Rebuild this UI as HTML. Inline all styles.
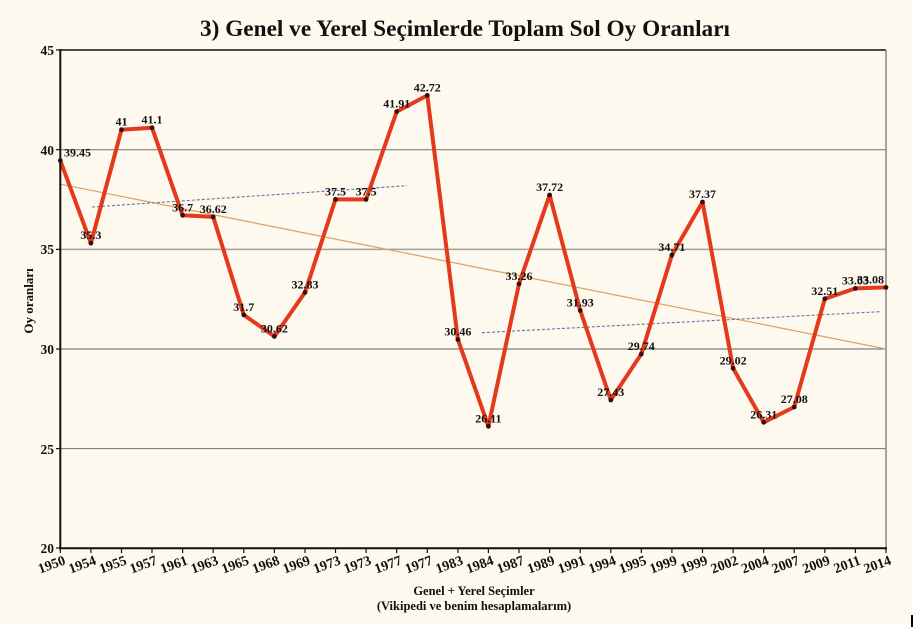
<!DOCTYPE html>
<html><head><meta charset="utf-8"><style>
html,body{margin:0;padding:0;background:#fff;}
svg{display:block;}
</style></head><body>
<svg width="921" height="642" viewBox="0 0 921 642" xmlns="http://www.w3.org/2000/svg">
<rect x="0" y="0" width="921" height="642" fill="#ffffff"/>
<rect x="0" y="0" width="912" height="624" fill="#fdf9ef"/>
<rect x="911" y="615" width="2" height="12" fill="#000"/>

<text x="465" y="36" text-anchor="middle" font-family="Liberation Serif, serif" font-weight="bold" font-size="23" fill="#111" textLength="530" lengthAdjust="spacingAndGlyphs">3) Genel ve Yerel Seçimlerde Toplam Sol Oy Oranları</text>

<!-- gridlines -->
<g stroke-width="1">
<line x1="60" y1="149.7" x2="886" y2="149.7" stroke="#707070"/>
<line x1="60" y1="249.4" x2="886" y2="249.4" stroke="#a0a0a0" stroke-width="1.5"/>
<line x1="60" y1="349" x2="886" y2="349" stroke="#606060"/>
<line x1="60" y1="448.6" x2="886" y2="448.6" stroke="#707070"/>
</g>
<line x1="60" y1="50" x2="886" y2="50" stroke="#111" stroke-width="1.5"/>
<line x1="886" y1="50" x2="886" y2="548" stroke="#888" stroke-width="1.5"/>

<!-- y axis ticks & labels -->
<g stroke="#111" stroke-width="1.2">
<line x1="56" y1="50" x2="60" y2="50"/>
<line x1="56" y1="149.7" x2="60" y2="149.7"/>
<line x1="56" y1="249.4" x2="60" y2="249.4"/>
<line x1="56" y1="349" x2="60" y2="349"/>
<line x1="56" y1="448.6" x2="60" y2="448.6"/>
<line x1="56" y1="548" x2="60" y2="548"/>
</g>
<g font-family="Liberation Serif, serif" font-weight="bold" font-size="13.5" fill="#111" text-anchor="end">
<text x="54" y="55">45</text>
<text x="54" y="155">40</text>
<text x="54" y="254">35</text>
<text x="54" y="354">30</text>
<text x="54" y="454">25</text>
<text x="54" y="553">20</text>
</g>
<text transform="translate(33,301) rotate(-90)" text-anchor="middle" font-family="Liberation Serif, serif" font-weight="bold" font-size="13" fill="#111">Oy oranları</text>

<!-- trend lines -->
<line x1="61" y1="184.3" x2="886" y2="349" stroke="#e0a060" stroke-width="1.2"/>
<line x1="92" y1="207" x2="407" y2="185.7" stroke="#5a78a8" stroke-width="1.1" stroke-dasharray="3,2"/>
<line x1="482" y1="332.7" x2="880" y2="311.7" stroke="#5a78a8" stroke-width="1.1" stroke-dasharray="3,2"/>

<!-- data line -->
<polyline fill="none" stroke="#e4391d" stroke-width="4" stroke-linejoin="round" stroke-linecap="round" points="60.3,160.6 90.9,243.2 121.5,129.7 152.0,127.7 182.6,215.3 213.2,216.9 243.8,314.9 274.4,336.4 305.0,292.4 335.5,199.4 366.1,199.4 396.7,111.6 427.3,95.4 457.9,339.6 488.4,426.3 519.0,283.9 549.6,195.0 580.2,310.4 610.8,400.0 641.3,354.0 671.9,255.0 702.5,202.0 733.1,368.3 763.7,422.3 794.2,407.0 824.8,298.8 855.4,288.4 886.0,287.4"/>
<g fill="#3a0d0d">
<circle cx="60.3" cy="160.6" r="2.4"/><circle cx="90.9" cy="243.2" r="2.4"/><circle cx="121.5" cy="129.7" r="2.4"/><circle cx="152.0" cy="127.7" r="2.4"/><circle cx="182.6" cy="215.3" r="2.4"/><circle cx="213.2" cy="216.9" r="2.4"/><circle cx="243.8" cy="314.9" r="2.4"/><circle cx="274.4" cy="336.4" r="2.4"/><circle cx="305.0" cy="292.4" r="2.4"/><circle cx="335.5" cy="199.4" r="2.4"/><circle cx="366.1" cy="199.4" r="2.4"/><circle cx="396.7" cy="111.6" r="2.4"/><circle cx="427.3" cy="95.4" r="2.4"/><circle cx="457.9" cy="339.6" r="2.4"/><circle cx="488.4" cy="426.3" r="2.4"/><circle cx="519.0" cy="283.9" r="2.4"/><circle cx="549.6" cy="195.0" r="2.4"/><circle cx="580.2" cy="310.4" r="2.4"/><circle cx="610.8" cy="400.0" r="2.4"/><circle cx="641.3" cy="354.0" r="2.4"/><circle cx="671.9" cy="255.0" r="2.4"/><circle cx="702.5" cy="202.0" r="2.4"/><circle cx="733.1" cy="368.3" r="2.4"/><circle cx="763.7" cy="422.3" r="2.4"/><circle cx="794.2" cy="407.0" r="2.4"/><circle cx="824.8" cy="298.8" r="2.4"/><circle cx="855.4" cy="288.4" r="2.4"/><circle cx="886.0" cy="287.4" r="2.4"/>
</g>

<!-- data labels -->
<g font-family="Liberation Serif, serif" font-weight="bold" font-size="12" fill="#111" text-anchor="middle">
<text x="64" y="156.6" text-anchor="start">39.45</text>
<text x="90.9" y="239.2">35.3</text>
<text x="121.5" y="125.7">41</text>
<text x="152.0" y="123.7">41.1</text>
<text x="182.6" y="211.3">36.7</text>
<text x="213.2" y="212.9">36.62</text>
<text x="243.8" y="310.9">31.7</text>
<text x="274.4" y="332.4">30.62</text>
<text x="305.0" y="288.4">32.83</text>
<text x="335.5" y="195.4">37.5</text>
<text x="366.1" y="195.4">37.5</text>
<text x="396.7" y="107.6">41.91</text>
<text x="427.3" y="91.4">42.72</text>
<text x="457.9" y="335.6">30.46</text>
<text x="488.4" y="422.3">26.11</text>
<text x="519.0" y="279.9">33.26</text>
<text x="549.6" y="191.0">37.72</text>
<text x="580.2" y="306.4">31.93</text>
<text x="610.8" y="396.0">27.43</text>
<text x="641.3" y="350.0">29.74</text>
<text x="671.9" y="251.0">34.71</text>
<text x="702.5" y="198.0">37.37</text>
<text x="733.1" y="364.3">29.02</text>
<text x="763.7" y="418.3">26.31</text>
<text x="794.2" y="403.0">27.08</text>
<text x="824.8" y="294.8">32.51</text>
<text x="855.4" y="284.4">33.03</text>
<text x="884" y="283.4" text-anchor="end">33.08</text>
</g>

<!-- axes -->
<line x1="60.3" y1="49" x2="60.3" y2="549" stroke="#111" stroke-width="2"/>
<line x1="59" y1="548.3" x2="887" y2="548.3" stroke="#111" stroke-width="2"/>
<g stroke="#111" stroke-width="1.2">
<line x1="60.3" y1="548" x2="60.3" y2="553"/><line x1="90.9" y1="548" x2="90.9" y2="553"/><line x1="121.5" y1="548" x2="121.5" y2="553"/><line x1="152.0" y1="548" x2="152.0" y2="553"/><line x1="182.6" y1="548" x2="182.6" y2="553"/><line x1="213.2" y1="548" x2="213.2" y2="553"/><line x1="243.8" y1="548" x2="243.8" y2="553"/><line x1="274.4" y1="548" x2="274.4" y2="553"/><line x1="305.0" y1="548" x2="305.0" y2="553"/><line x1="335.5" y1="548" x2="335.5" y2="553"/><line x1="366.1" y1="548" x2="366.1" y2="553"/><line x1="396.7" y1="548" x2="396.7" y2="553"/><line x1="427.3" y1="548" x2="427.3" y2="553"/><line x1="457.9" y1="548" x2="457.9" y2="553"/><line x1="488.4" y1="548" x2="488.4" y2="553"/><line x1="519.0" y1="548" x2="519.0" y2="553"/><line x1="549.6" y1="548" x2="549.6" y2="553"/><line x1="580.2" y1="548" x2="580.2" y2="553"/><line x1="610.8" y1="548" x2="610.8" y2="553"/><line x1="641.3" y1="548" x2="641.3" y2="553"/><line x1="671.9" y1="548" x2="671.9" y2="553"/><line x1="702.5" y1="548" x2="702.5" y2="553"/><line x1="733.1" y1="548" x2="733.1" y2="553"/><line x1="763.7" y1="548" x2="763.7" y2="553"/><line x1="794.2" y1="548" x2="794.2" y2="553"/><line x1="824.8" y1="548" x2="824.8" y2="553"/><line x1="855.4" y1="548" x2="855.4" y2="553"/><line x1="886.0" y1="548" x2="886.0" y2="553"/>
</g>

<!-- x tick labels -->
<g font-family="Liberation Serif, serif" font-weight="bold" font-size="14" fill="#111" text-anchor="end">
<text transform="translate(66.3,564) rotate(-20)">1950</text>
<text transform="translate(96.9,564) rotate(-20)">1954</text>
<text transform="translate(127.5,564) rotate(-20)">1955</text>
<text transform="translate(158.0,564) rotate(-20)">1957</text>
<text transform="translate(188.6,564) rotate(-20)">1961</text>
<text transform="translate(219.2,564) rotate(-20)">1963</text>
<text transform="translate(249.8,564) rotate(-20)">1965</text>
<text transform="translate(280.4,564) rotate(-20)">1968</text>
<text transform="translate(311.0,564) rotate(-20)">1969</text>
<text transform="translate(341.5,564) rotate(-20)">1973</text>
<text transform="translate(372.1,564) rotate(-20)">1973</text>
<text transform="translate(402.7,564) rotate(-20)">1977</text>
<text transform="translate(433.3,564) rotate(-20)">1977</text>
<text transform="translate(463.9,564) rotate(-20)">1983</text>
<text transform="translate(494.4,564) rotate(-20)">1984</text>
<text transform="translate(525.0,564) rotate(-20)">1987</text>
<text transform="translate(555.6,564) rotate(-20)">1989</text>
<text transform="translate(586.2,564) rotate(-20)">1991</text>
<text transform="translate(616.8,564) rotate(-20)">1994</text>
<text transform="translate(647.3,564) rotate(-20)">1995</text>
<text transform="translate(677.9,564) rotate(-20)">1999</text>
<text transform="translate(708.5,564) rotate(-20)">1999</text>
<text transform="translate(739.1,564) rotate(-20)">2002</text>
<text transform="translate(769.7,564) rotate(-20)">2004</text>
<text transform="translate(800.2,564) rotate(-20)">2007</text>
<text transform="translate(830.8,564) rotate(-20)">2009</text>
<text transform="translate(861.4,564) rotate(-20)">2011</text>
<text transform="translate(892.0,564) rotate(-20)">2014</text>
</g>

<g font-family="Liberation Serif, serif" font-weight="bold" font-size="12.5" fill="#111" text-anchor="middle">
<text x="474" y="595">Genel + Yerel Seçimler</text>
<text x="474" y="610">(Vikipedi ve benim hesaplamalarım)</text>
</g>
</svg>
</body></html>
